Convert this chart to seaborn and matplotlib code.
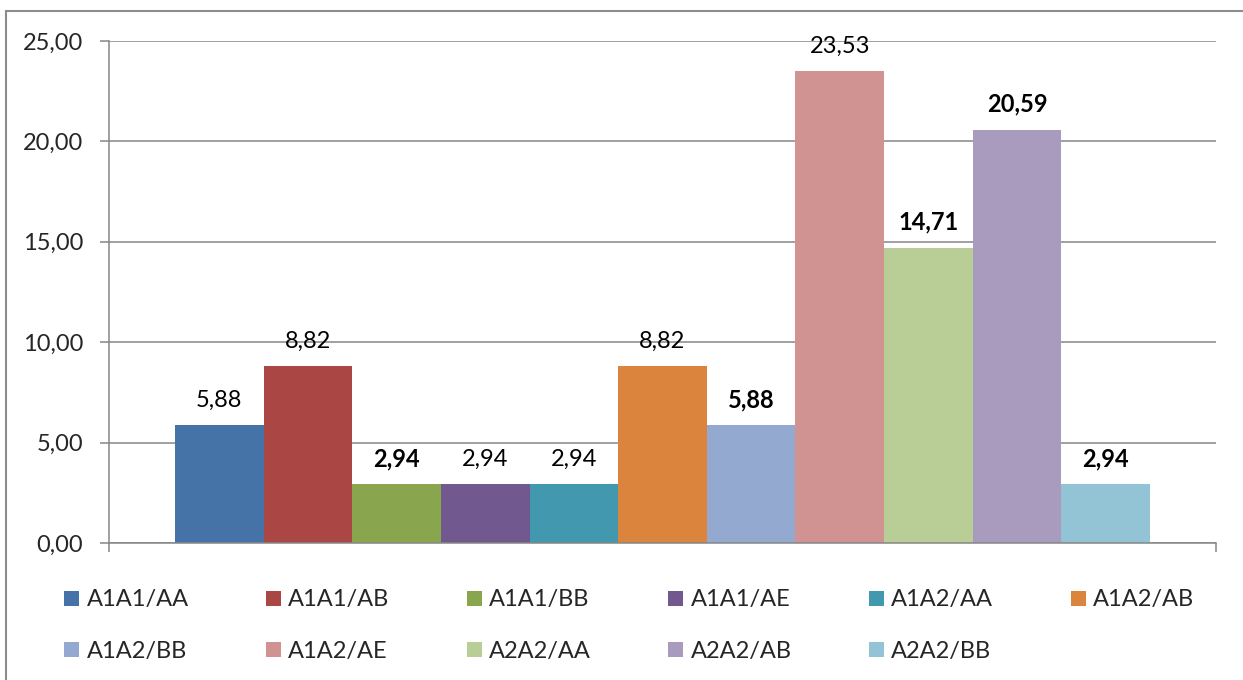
import pandas as pd
import matplotlib.pyplot as plt
import seaborn as sns
from matplotlib.lines import Line2D
from matplotlib.patches import Rectangle

# valores (%)
genotipos = ["A1A1/AA", "A1A1/AB", "A1A1/BB", "A1A1/AE", "A1A2/AA", "A1A2/AB",
             "A1A2/BB", "A1A2/AE", "A2A2/AA", "A2A2/AB", "A2A2/BB"]
valores = [5.88, 8.82, 2.94, 2.94, 2.94, 8.82, 5.88, 23.53, 14.71, 20.59, 2.94]
negrita = [False, False, True, False, False, False, True, False, True, True, True]
colores = ["#4572A7", "#AA4643", "#89A54E", "#71588F", "#4198AF", "#DB843D",
           "#93A9CF", "#D19392", "#B9CD96", "#A99BBD", "#92C4D5"]
yticks = [0, 5, 10, 15, 20, 25]
ytick_labels = ["0,00", "5,00", "10,00", "15,00", "20,00", "25,00"]

sns.set_style("white")
plt.rcParams["font.family"] = ["Lato", "DejaVu Sans"]
FS = 17
GRIS = "#868686"

df = pd.DataFrame({"grupo": [""] * len(genotipos), "genotipo": genotipos, "valor": valores})

fig = plt.figure(figsize=(12.43, 6.80), dpi=100)
ax = fig.add_axes([109 / 1243, 137 / 680, 1107 / 1243, 502 / 680])

sns.barplot(data=df, x="grupo", y="valor", hue="genotipo", hue_order=genotipos,
            palette=colores, width=0.881, saturation=1, errorbar=None,
            linewidth=0, legend=False, ax=ax)

for cont, val, bold in zip(ax.containers, valores, negrita):
    txt = ax.bar_label(cont, labels=[f"{val:.2f}".replace(".", ",")], padding=10,
                       fontsize=FS, color="black")
    for t in txt:
        t.set_fontweight("bold" if bold else "normal")

ax.set_ylim(0, 25)
ax.set_xlim(-0.5, 0.5)
ax.set_yticks(yticks)
ax.set_yticklabels(ytick_labels, fontsize=FS)
ax.set_xticks([-0.5, 0.5])
ax.set_xticklabels(["", ""])
ax.set_xlabel("")
ax.set_ylabel("")
ax.yaxis.grid(True, color=GRIS, linewidth=1.1)
ax.set_axisbelow(True)
ax.tick_params(axis="both", direction="out", length=6.5, width=1.1, color=GRIS,
               left=True, bottom=True)
ax.tick_params(axis="y", pad=12)
for s in ["top", "right"]:
    ax.spines[s].set_visible(False)
for s in ["left", "bottom"]:
    ax.spines[s].set_color(GRIS)
    ax.spines[s].set_linewidth(1.1)

# leyenda en filas (orden por filas, matplotlib llena por columnas)
orden = [0, 6, 1, 7, 2, 8, 3, 9, 4, 10, 5]
handles = [Line2D([], [], marker="s", linestyle="", markersize=10.8,
                  markerfacecolor=colores[i], markeredgewidth=0) for i in orden]
labels = [genotipos[i] for i in orden]
fig.legend(handles, labels, ncol=6, loc="upper left",
           bbox_to_anchor=(63 / 1243, 1 - 589 / 680), frameon=False, fontsize=FS,
           handlelength=0.7, handletextpad=0.3, columnspacing=3.22,
           labelspacing=1.3, borderpad=0, borderaxespad=0)

# marco exterior del gráfico
fig.patches.append(Rectangle((6 / 1243, -0.1), 1.2, 0.1 + (680 - 11) / 680,
                             transform=fig.transFigure, fill=False,
                             edgecolor="#8c8c8c", linewidth=1.5))

fig.savefig("out.png", dpi=100)
